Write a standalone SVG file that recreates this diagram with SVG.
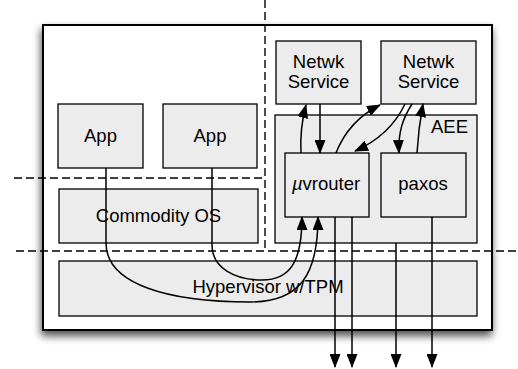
<svg xmlns="http://www.w3.org/2000/svg" width="518" height="369" viewBox="0 0 518 369">
<style>
.box{fill:#ececec;stroke:#000;stroke-width:1.3}
.lbl{font-family:"Liberation Sans",Arial,Helvetica,sans-serif;font-size:18.5px;fill:#000;text-anchor:middle}
.dash{fill:none;stroke:#000;stroke-width:1.4;stroke-dasharray:8,4}
.conn{fill:none;stroke:#000;stroke-width:1.5;marker-end:url(#arr)}
</style>
<defs>
<filter id="sh" x="-10%" y="-10%" width="120%" height="125%">
<feGaussianBlur in="SourceAlpha" stdDeviation="4"/>
<feOffset dx="-1" dy="5" result="b"/>
<feComponentTransfer><feFuncA type="linear" slope="0.7"/></feComponentTransfer>
<feMerge><feMergeNode/><feMergeNode in="SourceGraphic"/></feMerge>
</filter>
<marker id="arr" viewBox="0 0 14 11" refX="13" refY="5.5" markerWidth="14" markerHeight="11" markerUnits="userSpaceOnUse" orient="auto">
<path d="M0,0 L14,5.5 L0,11 z" fill="#000"/>
</marker>
</defs>
<g id="outer"><rect x="43" y="25" width="449" height="305" fill="#fff" stroke="#000" stroke-width="2" filter="url(#sh)"/></g>
<g id="app1"><rect class="box" x="58" y="104" width="85" height="64"/><text class="lbl" x="100.5" y="142">App</text></g>
<g id="app2"><rect class="box" x="163" y="104" width="94" height="64"/><text class="lbl" x="210" y="142">App</text></g>
<g id="commodity"><rect class="box" x="59" y="189" width="199" height="54"/><text class="lbl" x="158.5" y="222">Commodity OS</text></g>
<g id="hypervisor"><rect class="box" x="59" y="261" width="418" height="55"/><text class="lbl" x="268" y="293">Hypervisor w/TPM</text></g>
<g id="aee"><rect class="box" x="275" y="115" width="202" height="128"/><text class="lbl" x="468" y="133" style="text-anchor:end">AEE</text></g>
<g id="netwk1"><rect class="box" x="276" y="41" width="85" height="63"/><text class="lbl" x="318.5" y="68">Netwk</text><text class="lbl" x="318.5" y="88">Service</text></g>
<g id="netwk2"><rect class="box" x="381" y="41" width="95" height="63"/><text class="lbl" x="428.5" y="68">Netwk</text><text class="lbl" x="428.5" y="88">Service</text></g>
<g id="uvrouter"><rect class="box" x="285" y="153" width="84" height="64"/><text class="lbl" x="326" y="190"><tspan font-style="italic">µ</tspan>vrouter</text></g>
<g id="paxos"><rect class="box" x="381" y="153" width="85" height="64"/><text class="lbl" x="423" y="190">paxos</text></g>
<g id="boundaries">
<path class="dash" d="M14,178 H265"/>
<path class="dash" d="M265,0 V251"/>
<path class="dash" d="M16,251 H518"/>
</g>
<g id="connectors">
<path class="conn" d="M301,153 C300,135 302,120 306,105"/>
<path class="conn" d="M320,104 V153"/>
<path class="conn" d="M336,153 C345,130 360,115 380,105"/>
<path class="conn" d="M405,104 C395,125 380,140 355,151"/>
<path class="conn" d="M412,104 C403,118 398,132 399,153"/>
<path class="conn" d="M417,153 C418,135 420,120 423,104"/>
<path class="conn" d="M106,168 V243 C106,285 170,302 250,302 C300,302 318,275 318,217"/>
<path class="conn" d="M212,168 V245 C212,268 235,280 262,280 C290,280 302,262 302,217"/>
<path class="conn" d="M335,217 V367"/>
<path class="conn" d="M352,217 V367"/>
<path class="conn" d="M396,243 V367"/>
<path class="conn" d="M432,217 V367"/>
</g>
</svg>
